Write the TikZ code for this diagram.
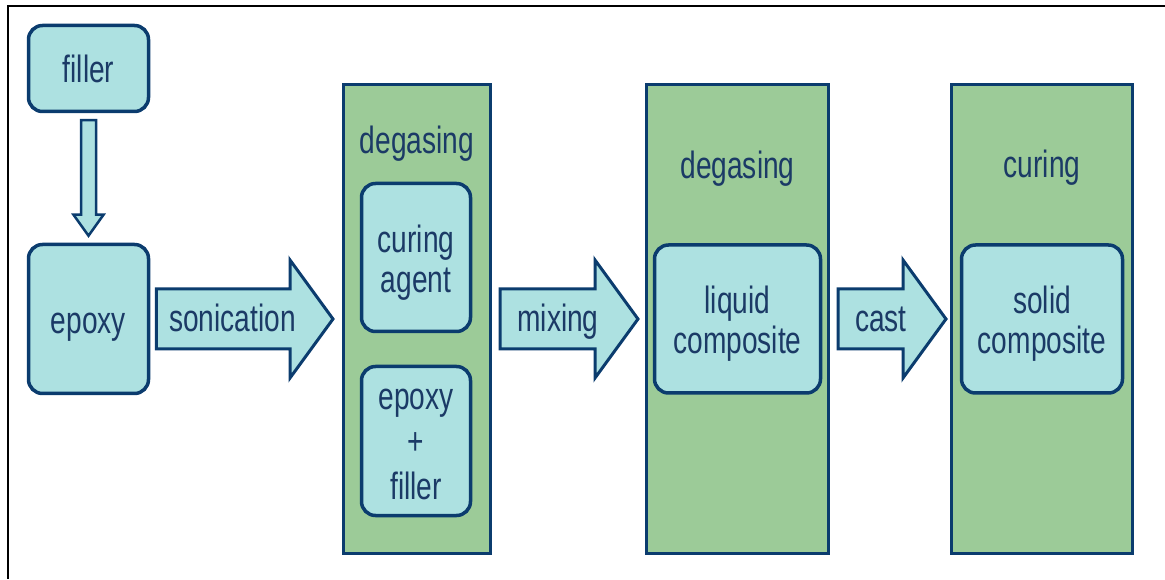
\documentclass[tikz,border=0pt]{standalone}
\usepackage{fontspec}
\setmainfont[FakeStretch=0.74]{Liberation Sans}
\usetikzlibrary{calc}
\definecolor{cyanfill}{HTML}{ADE1E1}
\definecolor{greenfill}{HTML}{9CCB98}
\definecolor{navy}{HTML}{0B3C6E}
\definecolor{txt}{HTML}{1B3A66}
\newcommand{\topstrut}[1]{\rule{0pt}{#1}}
\begin{document}
\begin{tikzpicture}[x=1pt,y=1pt,
  every node/.style={font=\fontsize{38}{40}\selectfont, text=txt},
  rbox/.style={draw=navy, line width=3.5pt, fill=cyanfill, rounded corners=14pt, inner sep=0pt, align=center},
  oneline/.style={text height=36pt, text depth=7.6pt},
  stage/.style={draw=navy, line width=3pt, fill=greenfill, inner sep=0pt},
  flow/.style={draw=navy, line width=3pt, fill=cyanfill, line join=miter},
  harrow/.style={flow, to path={let \p1=(\tikztostart), \p2=(\tikztotarget) in
     (\x1,\y1+30pt) -- (\x2-43pt,\y1+30pt) -- (\x2-43pt,\y1+59pt) -- (\x2,\y1)
     -- (\x2-43pt,\y1-59pt) -- (\x2-43pt,\y1-30pt) -- (\x1,\y1-30pt) -- cycle}},
  lbl/.style={anchor=base, inner sep=0pt}
]
\useasboundingbox (0,0) rectangle (1165,579);
% frame
\coordinate (fTL) at (8,573);
\coordinate (fTR) at (1165,573);
\coordinate (fBL) at (8,0);
\draw[black, line width=2.5pt] (fTR) -- (fTL) -- (fBL);

% stage boxes
\node[stage, minimum width=147, minimum height=469] (box1) at (417,260) {};
\node[stage, minimum width=182, minimum height=469] (box2) at (737.5,260) {};
\node[stage, minimum width=181, minimum height=469] (box3) at (1042,260) {};

\node[lbl] (t1) at (417,425) {degasing};
\node[lbl] (t2) at (737.5,400) {degasing};
\node[lbl] (t3) at (1042,401) {curing};

% material boxes
\node[rbox, oneline, minimum width=120, minimum height=86] (filler) at (88.5,510.5) {filler};
\node[rbox, oneline, minimum width=120, minimum height=149] (epoxy) at (88.5,260) {epoxy};
\node[rbox, minimum width=109, minimum height=148] (agent) at (416,321.5) {\topstrut{37pt}curing\\agent};
\node[rbox, minimum width=109, minimum height=149, font=\fontsize{38}{45}\selectfont] (mix) at (416,138) {\topstrut{28pt}epoxy\\+\\filler};
\node[rbox, minimum width=166, minimum height=148] (liquid) at (737.5,260) {\topstrut{36pt}liquid\\composite};
\node[rbox, minimum width=161, minimum height=148] (solid) at (1042,260) {\topstrut{36pt}solid\\composite};

% down arrow filler -> epoxy
\coordinate (d1s) at ([yshift=-7pt]filler.south);
\coordinate (d1e) at ([yshift=7pt]epoxy.north);
\draw[flow, line width=2.5pt] let \p1=(d1s), \p2=(d1e) in
  (\x1-7.5pt,\y1) -- (\x1-7.5pt,\y2+21pt) -- (\x1-15pt,\y2+21pt) -- (\x2,\y2)
  -- (\x1+15pt,\y2+21pt) -- (\x1+7.5pt,\y2+21pt) -- (\x1+7.5pt,\y1) -- cycle;

% block arrows
\coordinate (a1s) at ([xshift=6pt]epoxy.east);
\coordinate (a1e) at ($(box1.west)+(-9pt,0)$);
\coordinate (a2s) at ([xshift=8pt]box1.east);
\coordinate (a2e) at ($(box2.west)+(-7pt,0)$);
\coordinate (a3s) at ([xshift=8pt]box2.east);
\coordinate (a3e) at ($(box3.west)+(-4pt,0)$);
\draw[harrow] (a1s) to (a1e);
\draw[harrow] (a2s) to (a2e);
\draw[harrow] (a3s) to (a3e);

\node[lbl] (l1) at (232.5,247) {sonication};
\node[lbl] (l2) at (558,247) {mixing};
\node[lbl] (l3) at (881,247) {cast};
\end{tikzpicture}
\end{document}
